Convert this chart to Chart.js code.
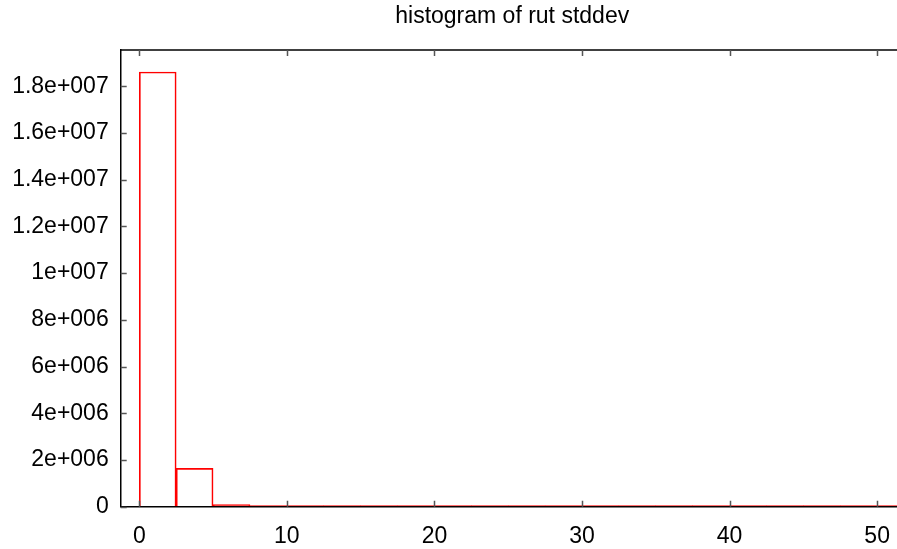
<!DOCTYPE html>
<html>
<head>
<meta charset="utf-8">
<script src="https://cdn.jsdelivr.net/npm/chart.js@4"></script>
<style>
  html, body { margin: 0; padding: 0; background: #fff; overflow: hidden; }
  #wrap { width: 906px; height: 549px; }
</style>
</head>
<body>
<div id="wrap"><canvas id="c" width="906" height="549"></canvas></div>
<script>
// ---- data ----
const chartTitle = "histogram of rut stddev";
const binCenters = [1.25, 3.75, 6.25, 8.75, 11.25, 13.75, 16.25, 18.75, 21.25, 23.75, 26.25, 28.75, 31.25, 33.75, 36.25, 38.75, 41.25, 43.75, 46.25, 48.75, 51.25];
const binCounts  = [18610000, 1640000, 86000, 12000, 3000, 1200, 600, 300, 200, 120, 80, 60, 40, 30, 20, 15, 10, 8, 6, 5, 4];
const xTickValues = [0, 10, 20, 30, 40, 50];
const yTickValues = [0, 2e6, 4e6, 6e6, 8e6, 1e7, 1.2e7, 1.4e7, 1.6e7, 1.8e7];
const yTickLabels = ["0", "2e+006", "4e+006", "6e+006", "8e+006", "1e+007", "1.2e+007", "1.4e+007", "1.6e+007", "1.8e+007"];

const FONT = "'Liberation Sans', Arial, sans-serif";

const inwardTicks = {
  id: 'inwardTicks',
  afterDatasetsDraw(chart) {
    const ctx = chart.ctx;
    const a = chart.chartArea;
    ctx.save();
    ctx.strokeStyle = '#555';
    ctx.lineWidth = 1.5;
    const xs = chart.scales.x;
    xs.ticks.forEach(t => {
      const px = Math.round(xs.getPixelForValue(t.value)) + 0.5;
      ctx.beginPath();
      ctx.moveTo(px, a.bottom); ctx.lineTo(px, a.bottom - 6);
      ctx.moveTo(px, a.top); ctx.lineTo(px, a.top + 6);
      ctx.stroke();
    });
    const ys = chart.scales.y;
    ys.ticks.forEach(t => {
      const py = Math.round(ys.getPixelForValue(t.value)) + 0.5;
      ctx.beginPath();
      ctx.moveTo(a.left, py); ctx.lineTo(a.left + 6, py);
      ctx.stroke();
    });
    ctx.restore();
  }
};

new Chart(document.getElementById('c'), {
  type: 'bar',
  data: {
    datasets: [{
      data: binCenters.map((x, i) => ({ x: x, y: binCounts[i] })),
      backgroundColor: 'rgba(0,0,0,0)',
      borderColor: '#ff0000',
      borderWidth: 1,
      borderSkipped: 'start',
      minBarLength: 1,
      barPercentage: 1,
      categoryPercentage: 1,
      grouped: false
    }]
  },
  options: {
    responsive: false,
    animation: false,
    devicePixelRatio: 1,
    layout: { padding: 0 },
    plugins: {
      legend: { display: false },
      tooltip: { enabled: false },
      title: {
        display: true,
        text: chartTitle,
        fullSize: false,
        color: '#000',
        font: { family: FONT, size: 23, weight: 'normal', lineHeight: 1.2 },
        padding: { top: 3, bottom: 0 }
      }
    },
    scales: {
      x: {
        type: 'linear',
        position: 'bottom',
        offset: false,
        min: -1.26,
        max: 51.8,
        afterBuildTicks: s => { s.ticks = xTickValues.map(v => ({ value: v })); },
        afterFit: s => { s.height = 42.3; },
        ticks: {
          color: '#000',
          font: { family: FONT, size: 23 },
          padding: 16,
          maxRotation: 0,
          callback: v => String(v)
        },
        grid: { display: true, drawOnChartArea: false, drawTicks: false, offset: false },
        border: { display: true, color: '#000', width: 1.5 }
      },
      x2: {
        type: 'linear',
        position: 'top',
        offset: false,
        min: -1.26,
        max: 51.8,
        afterBuildTicks: s => { s.ticks = xTickValues.map(v => ({ value: v })); },
        afterFit: s => { s.height = 19.4; },
        ticks: { display: false },
        grid: { display: true, drawOnChartArea: false, drawTicks: false, offset: false },
        border: { display: true, color: '#404040', width: 2 }
      },
      y: {
        type: 'linear',
        min: 0,
        max: 1.955e7,
        afterBuildTicks: s => { s.ticks = yTickValues.map(v => ({ value: v })); },
        afterFit: s => { s.width = 120.7; },
        ticks: {
          color: '#000',
          font: { family: FONT, size: 23 },
          padding: 12,
          callback: (v) => { const i = yTickValues.indexOf(v); return i >= 0 ? yTickLabels[i] : ''; }
        },
        grid: { display: true, drawOnChartArea: false, drawTicks: false },
        border: { display: true, color: '#000', width: 1.5 }
      }
    }
  },
  plugins: [inwardTicks]
});
</script>
</body>
</html>
